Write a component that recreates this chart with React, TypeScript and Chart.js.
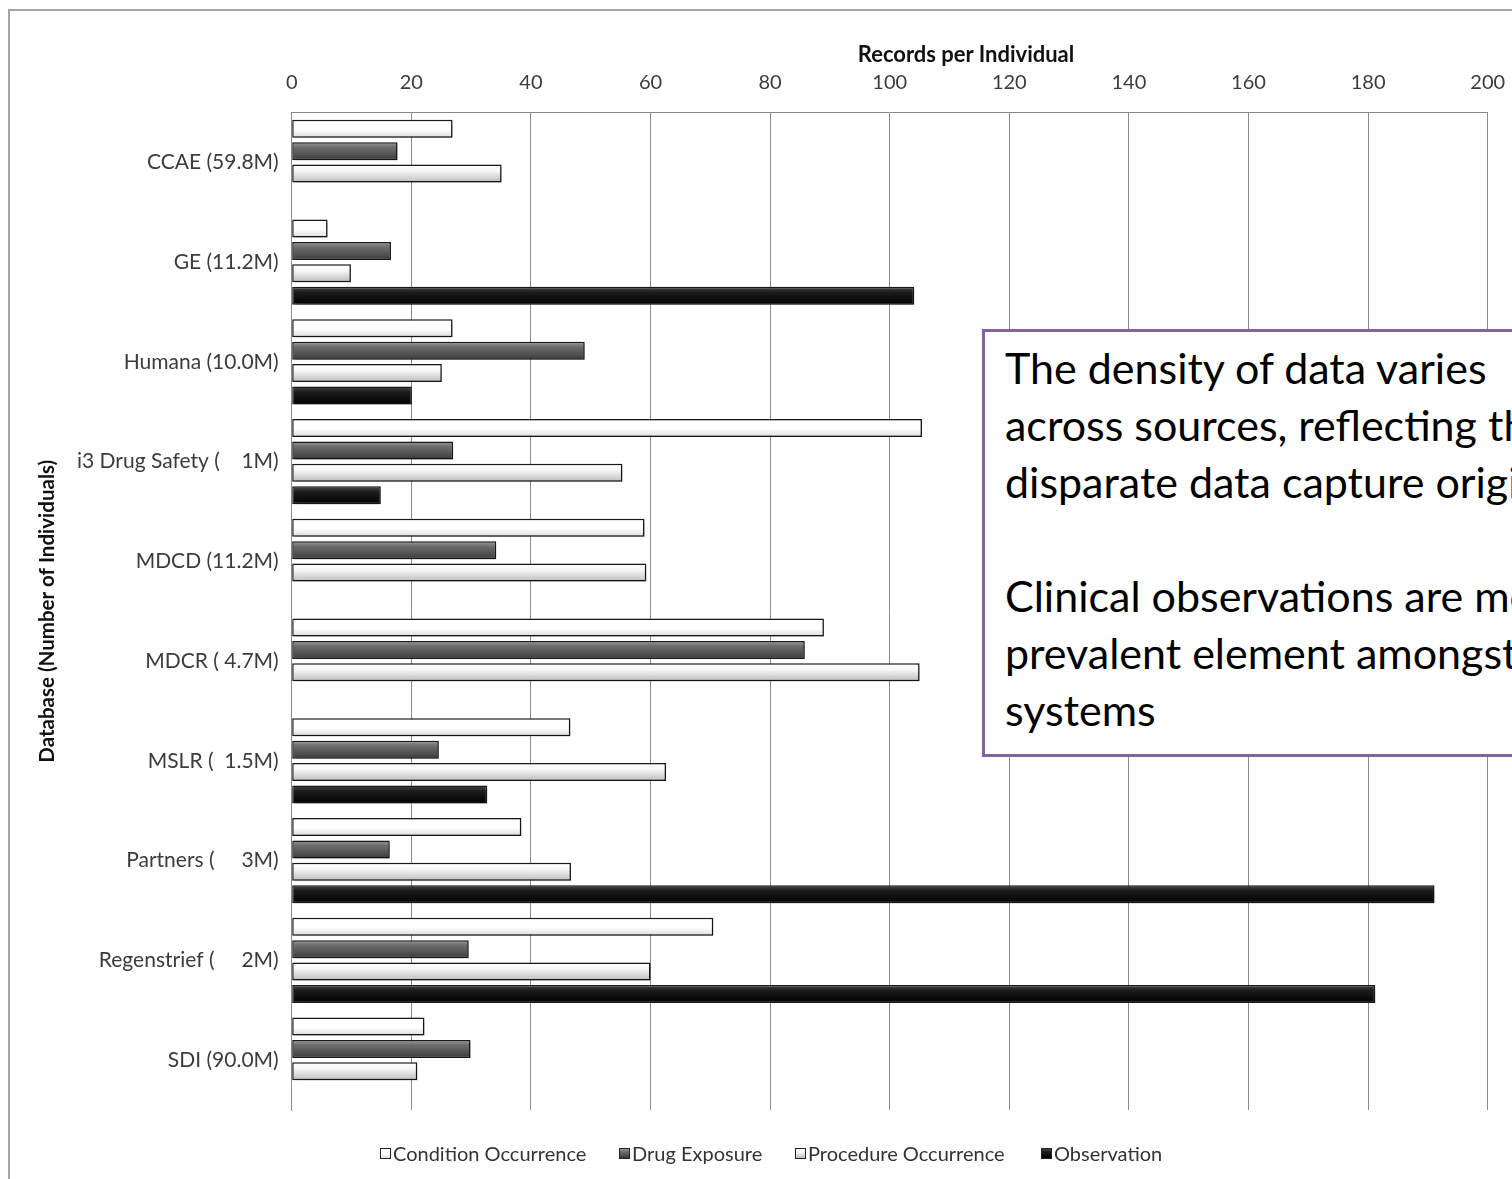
import React, { useEffect, useRef } from "react";
import { Chart, registerables } from "chart.js";

Chart.register(...registerables);

// ---------- data ----------
const categories = [
  "CCAE (59.8M)",
  "GE (11.2M)",
  "Humana (10.0M)",
  "i3 Drug Safety (    1M)",
  "MDCD (11.2M)",
  "MDCR ( 4.7M)",
  "MSLR (  1.5M)",
  "Partners (     3M)",
  "Regenstrief (     2M)",
  "SDI (90.0M)",
];
const seriesNames = ["Condition Occurrence", "Drug Exposure", "Procedure Occurrence", "Observation"];
const conditionOccurrence = [26.9, 6.0, 26.9, 105.4, 59.0, 89.0, 46.6, 38.4, 70.5, 22.2];
const drugExposure = [17.7, 16.6, 49.0, 27.0, 34.2, 85.8, 24.6, 16.4, 29.6, 29.9];
const procedureOccurrence = [35.1, 9.9, 25.1, 55.3, 59.3, 105.0, 62.6, 46.7, 60.0, 21.0];
const observation = [null, 104.1, 20.1, 14.9, null, null, 32.7, 191.1, 181.2, null];
const xMin = 0;
const xMax = 200;
const xStep = 20;
const xAxisTitle = "Records per Individual";
const yAxisTitle = "Database (Number of Individuals)";
const noteLines = [
  "The density of data varies",
  "across sources, reflecting the",
  "disparate data capture origins",
  "",
  "Clinical observations are most",
  "prevalent element amongst EHR",
  "systems",
];

// ---------- styles ----------
const gradientStops: [number, string][][] = [
  [[0, "#ffffff"], [0.55, "#ffffff"], [1, "#dcdcdc"]],
  [[0, "#9a9a9a"], [0.3, "#6c6c6c"], [0.75, "#4e4e4e"], [1, "#383838"]],
  [[0, "#ffffff"], [0.35, "#f7f7f7"], [1, "#bcbcbc"]],
  [[0, "#4a4a4a"], [0.3, "#1c1c1c"], [1, "#000000"]],
];
const seriesData = [conditionOccurrence, drugExposure, procedureOccurrence, observation];
const cssGradient = (stops: [number, string][]) =>
  "linear-gradient(to bottom, " + stops.map(([o, c]) => `${c} ${o * 100}%`).join(", ") + ")";

const FONT = "Lato, 'Open Sans', sans-serif";
const GRID = "#8a8a8a";

const bevelPlugin = {
  id: "bevel",
  beforeDatasetsDraw(chart: any) {
    const ctx = chart.ctx;
    chart.data.datasets.forEach((_ds: any, di: number) => {
      const meta = chart.getDatasetMeta(di);
      const stops = gradientStops[di];
      meta.data.forEach((el: any) => {
        const y = el.y;
        const h = el.height;
        if (!isFinite(y) || !isFinite(h)) return;
        const g = ctx.createLinearGradient(0, y - h / 2, 0, y + h / 2);
        stops.forEach(([o, c]) => g.addColorStop(o, c));
        el.options = { ...el.options, backgroundColor: g };
      });
    });
  },
  beforeDatasetDraw(chart: any) {
    const ctx = chart.ctx;
    ctx.shadowColor = "rgba(0,0,0,0.35)";
    ctx.shadowBlur = 4;
    ctx.shadowOffsetX = 2;
    ctx.shadowOffsetY = 2;
  },
  afterDatasetDraw(chart: any) {
    const ctx = chart.ctx;
    ctx.shadowColor = "rgba(0,0,0,0)";
    ctx.shadowBlur = 0;
    ctx.shadowOffsetX = 0;
    ctx.shadowOffsetY = 0;
  },
};

export default function App() {
  const canvasRef = useRef<HTMLCanvasElement | null>(null);

  useEffect(() => {
    if (!canvasRef.current) return;
    const chart = new Chart(canvasRef.current, {
      type: "bar",
      data: {
        labels: categories,
        datasets: seriesNames.map((name, i) => ({
          label: name,
          data: seriesData[i] as any,
          backgroundColor: gradientStops[i][1][1],
          borderColor: "#1a1a1a",
          borderWidth: 1.5,
          borderSkipped: false,
          categoryPercentage: 0.9,
          barPercentage: 0.8,
        })),
      },
      options: {
        indexAxis: "y",
        animation: false,
        responsive: false,
        devicePixelRatio: 1,
        layout: { padding: { left: 0, right: 24.3, top: 0, bottom: 69 } },
        plugins: {
          legend: { display: false },
          tooltip: { enabled: false },
          title: { display: false },
        },
        scales: {
          x: {
            position: "top",
            min: xMin,
            max: xMax,
            afterFit: (s: any) => {
              s.height = 104.5;
              s.paddingLeft = 0;
              s.paddingRight = 0;
            },
            ticks: {
              stepSize: xStep,
              color: "#3c3c3c",
              font: { family: FONT, size: 20 },
              padding: 18,
            },
            grid: { color: GRID, lineWidth: 1, drawTicks: false },
            border: { display: true, color: GRID, width: 1 },
          },
          y: {
            afterFit: (s: any) => {
              s.width = 283.7;
            },
            ticks: {
              color: "#3c3c3c",
              font: { family: FONT, size: 21 },
              padding: 13,
            },
            grid: { display: false, drawTicks: false },
            border: { display: true, color: GRID, width: 1 },
            title: {
              display: true,
              text: yAxisTitle,
              color: "#111",
              font: { family: FONT, size: 20.5, weight: "bold" },
              padding: { top: 26.7, bottom: 0 },
            },
          },
        },
      } as any,
      plugins: [bevelPlugin],
    });
    return () => chart.destroy();
  }, []);

  const legendLefts = [372, 611, 787, 1033];

  return (
    <div
      style={{
        position: "fixed",
        left: 8,
        top: 8,
        width: 1504,
        height: 1171,
        overflow: "hidden",
        fontFamily: FONT,
        background: "#fff",
      }}
    >
      <div
        style={{
          position: "absolute",
          left: 0,
          top: 1,
          width: 1700,
          height: 1400,
          border: "2px solid #a4a4a4",
          boxSizing: "border-box",
        }}
      />
      <canvas
        ref={canvasRef}
        width={1504}
        height={1171}
        style={{ position: "absolute", left: 0, top: 0, width: 1504, height: 1171 }}
      />
      <div
        style={{
          position: "absolute",
          left: 958,
          top: 45,
          transform: "translate(-50%, -50%)",
          fontWeight: 700,
          fontSize: 22,
          color: "#111",
          whiteSpace: "nowrap",
        }}
      >
        {xAxisTitle}
      </div>
      {seriesNames.map((name, i) => (
        <div
          key={name}
          style={{
            position: "absolute",
            left: legendLefts[i],
            top: 1145,
            transform: "translateY(-50%)",
            display: "flex",
            alignItems: "center",
            whiteSpace: "nowrap",
            fontSize: 20,
            color: "#333",
          }}
        >
          <span
            style={{
              display: "inline-block",
              width: 11,
              height: 11,
              boxSizing: "border-box",
              border: "1.5px solid #222",
              background: cssGradient(gradientStops[i]),
              marginRight: 2,
            }}
          />
          <span>{name}</span>
        </div>
      ))}
      <div
        style={{
          position: "absolute",
          left: 974,
          top: 321,
          width: 800,
          height: 428,
          boxSizing: "border-box",
          border: "3px solid #8064a2",
          background: "#fff",
          padding: "7px 0 0 20px",
          fontSize: 43,
          lineHeight: "57px",
          color: "#000",
          whiteSpace: "pre",
        }}
      >
        {noteLines.map((l, i) => (
          <div key={i} style={{ height: 57 }}>
            {l}
          </div>
        ))}
      </div>
    </div>
  );
}
